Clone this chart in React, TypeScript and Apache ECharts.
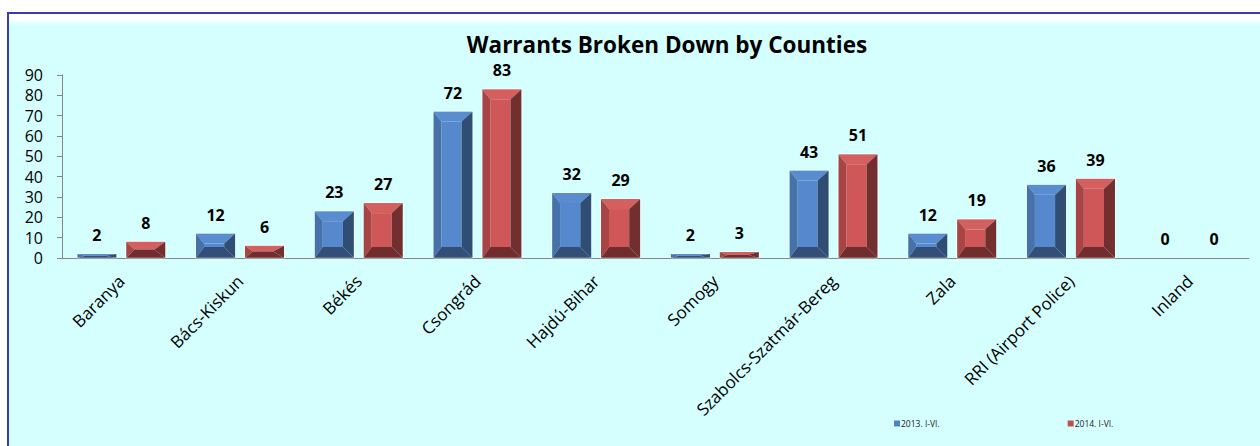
import React, { useEffect, useRef } from "react";
import * as echarts from "echarts";

const categories = [
  "Baranya",
  "Bács-Kiskun",
  "Békés",
  "Csongrád",
  "Hajdú-Bihar",
  "Somogy",
  "Szabolcs-Szatmár-Bereg",
  "Zala",
  "RRI (Airport Police)",
  "Inland",
];
const values2013 = [2, 12, 23, 72, 32, 2, 43, 12, 36, 0];
const values2014 = [8, 6, 27, 83, 29, 3, 51, 19, 39, 0];
const seriesNames = ["2013. I-VI.", "2014. I-VI."];
const yTicks = { min: 0, max: 90, interval: 10 };

const FONT = "'Open Sans', 'Noto Sans', sans-serif";

const palettes = [
  { front: "#5588CC", top: "#5A8DD0", left: "#4672A9", right: "#304D74", bottom: "#334F78", legend: "#4F81BD" },
  { front: "#D05757", top: "#D55E5E", left: "#A94444", right: "#732F2F", bottom: "#712D2D", legend: "#C0504D" },
];

function makeRender(offset: number, pal: any) {
  return (params: any, api: any) => {
    const cat = api.value(0);
    const val = api.value(1);
    const band = api.size([1, 0])[0];
    const base = api.coord([cat, 0]);
    const topPt = api.coord([cat, val]);
    const w = band * 0.33;
    const cx = base[0] + offset * band;
    const x0 = cx - w / 2;
    const x1 = cx + w / 2;
    const y0 = topPt[1];
    const y1 = base[1];
    const h = y1 - y0;
    const children: any[] = [];
    if (h > 0.5) {
      let bl = 8, br = 11, bt = 10, bb = 11;
      if (h < bt + bb) {
        const k = h / (bt + bb);
        bt *= k;
        bb *= k;
      }
      const ix0 = x0 + bl, ix1 = x1 - br, iy0 = y0 + bt, iy1 = y1 - bb;
      const poly = (pts: number[][], fill: string) => ({
        type: "polygon",
        shape: { points: pts },
        style: { fill },
      });
      children.push(poly([[ix0, iy0], [ix1, iy0], [ix1, iy1], [ix0, iy1]], pal.front));
      children.push(poly([[x0, y0], [x1, y0], [ix1, iy0], [ix0, iy0]], pal.top));
      children.push(poly([[x0, y0], [ix0, iy0], [ix0, iy1], [x0, y1]], pal.left));
      children.push(poly([[x1, y0], [x1, y1], [ix1, iy1], [ix1, iy0]], pal.right));
      children.push(poly([[x0, y1], [ix0, iy1], [ix1, iy1], [x1, y1]], pal.bottom));
      children.push({
        type: "rect",
        shape: { x: x0 - 0.5, y: y0 - 0.5, width: w + 1, height: h + 0.5 },
        style: { fill: "none", stroke: "rgba(255,255,255,0.45)", lineWidth: 1 },
      });
    }
    children.push({
      type: "text",
      style: {
        text: String(val),
        x: cx,
        y: y0 - 19,
        align: "center",
        verticalAlign: "middle",
        font: `bold 16px ${FONT}`,
        fill: "#000",
      },
    });
    return { type: "group", children };
  };
}

export default function App() {
  const ref = useRef<HTMLDivElement>(null);
  useEffect(() => {
    if (!ref.current) return;
    const chart = echarts.init(ref.current, null, { renderer: "svg" });
    const data13 = values2013.map((v, i) => [i, v]);
    const data14 = values2014.map((v, i) => [i, v]);
    chart.setOption({
      animation: false,
      backgroundColor: "#ffffff",
      color: [palettes[0].legend, palettes[1].legend],
      graphic: [
        {
          type: "rect",
          z: -10,
          silent: true,
          shape: { x: 8, y: 13, width: 1300, height: 500 },
          style: {
            fill: {
              type: "linear",
              x: 0, y: 0, x2: 0, y2: 1,
              colorStops: [
                { offset: 0, color: "#ffffff" },
                { offset: 0.012, color: "#ffffff" },
                { offset: 0.025, color: "#D5FFFF" },
                { offset: 1, color: "#D5FFFF" },
              ],
            },
            stroke: "#3D3DA6",
            lineWidth: 2,
          },
        },
        {
          type: "text",
          x: 667,
          y: 44,
          style: {
            text: "Warrants Broken Down by Counties",
            font: `bold 22.5px ${FONT}`,
            fill: "#000",
            align: "center",
            verticalAlign: "middle",
          },
        },
      ],
      legend: {
        left: 889,
        top: 414,
        itemWidth: 6,
        itemHeight: 6,
        itemGap: 128,
        icon: "rect",
        textStyle: { fontSize: 8.5, color: "#222", fontFamily: FONT, padding: [0, 0, 0, -4] },
        data: seriesNames,
      },
      grid: { left: 62, right: 11, top: 75, bottom: 188, containLabel: false },
      xAxis: {
        type: "category",
        data: categories,
        axisLine: { lineStyle: { color: "#868686" } },
        axisTick: { show: false },
        axisLabel: {
          rotate: 45,
          interval: 0,
          margin: 20,
          fontSize: 17,
          color: "#000",
          fontFamily: FONT,
        },
      },
      yAxis: {
        type: "value",
        min: yTicks.min,
        max: yTicks.max,
        interval: yTicks.interval,
        splitLine: { show: false },
        axisLine: { show: true, lineStyle: { color: "#868686" } },
        axisTick: { show: true, length: 5, lineStyle: { color: "#868686" } },
        axisLabel: { fontSize: 16, color: "#000", margin: 19, fontFamily: FONT },
      },
      series: [
        {
          type: "custom",
          name: seriesNames[0],
          renderItem: makeRender(-0.206, palettes[0]),
          encode: { x: 0, y: 1 },
          data: data13,
          itemStyle: { color: palettes[0].legend },
        },
        {
          type: "custom",
          name: seriesNames[1],
          renderItem: makeRender(0.206, palettes[1]),
          encode: { x: 0, y: 1 },
          data: data14,
          itemStyle: { color: palettes[1].legend },
        },
      ],
    });
    return () => chart.dispose();
  }, []);
  return (
    <div
      ref={ref}
      style={{ position: "absolute", left: 0, top: 0, width: 1260, height: 446 }}
    />
  );
}
